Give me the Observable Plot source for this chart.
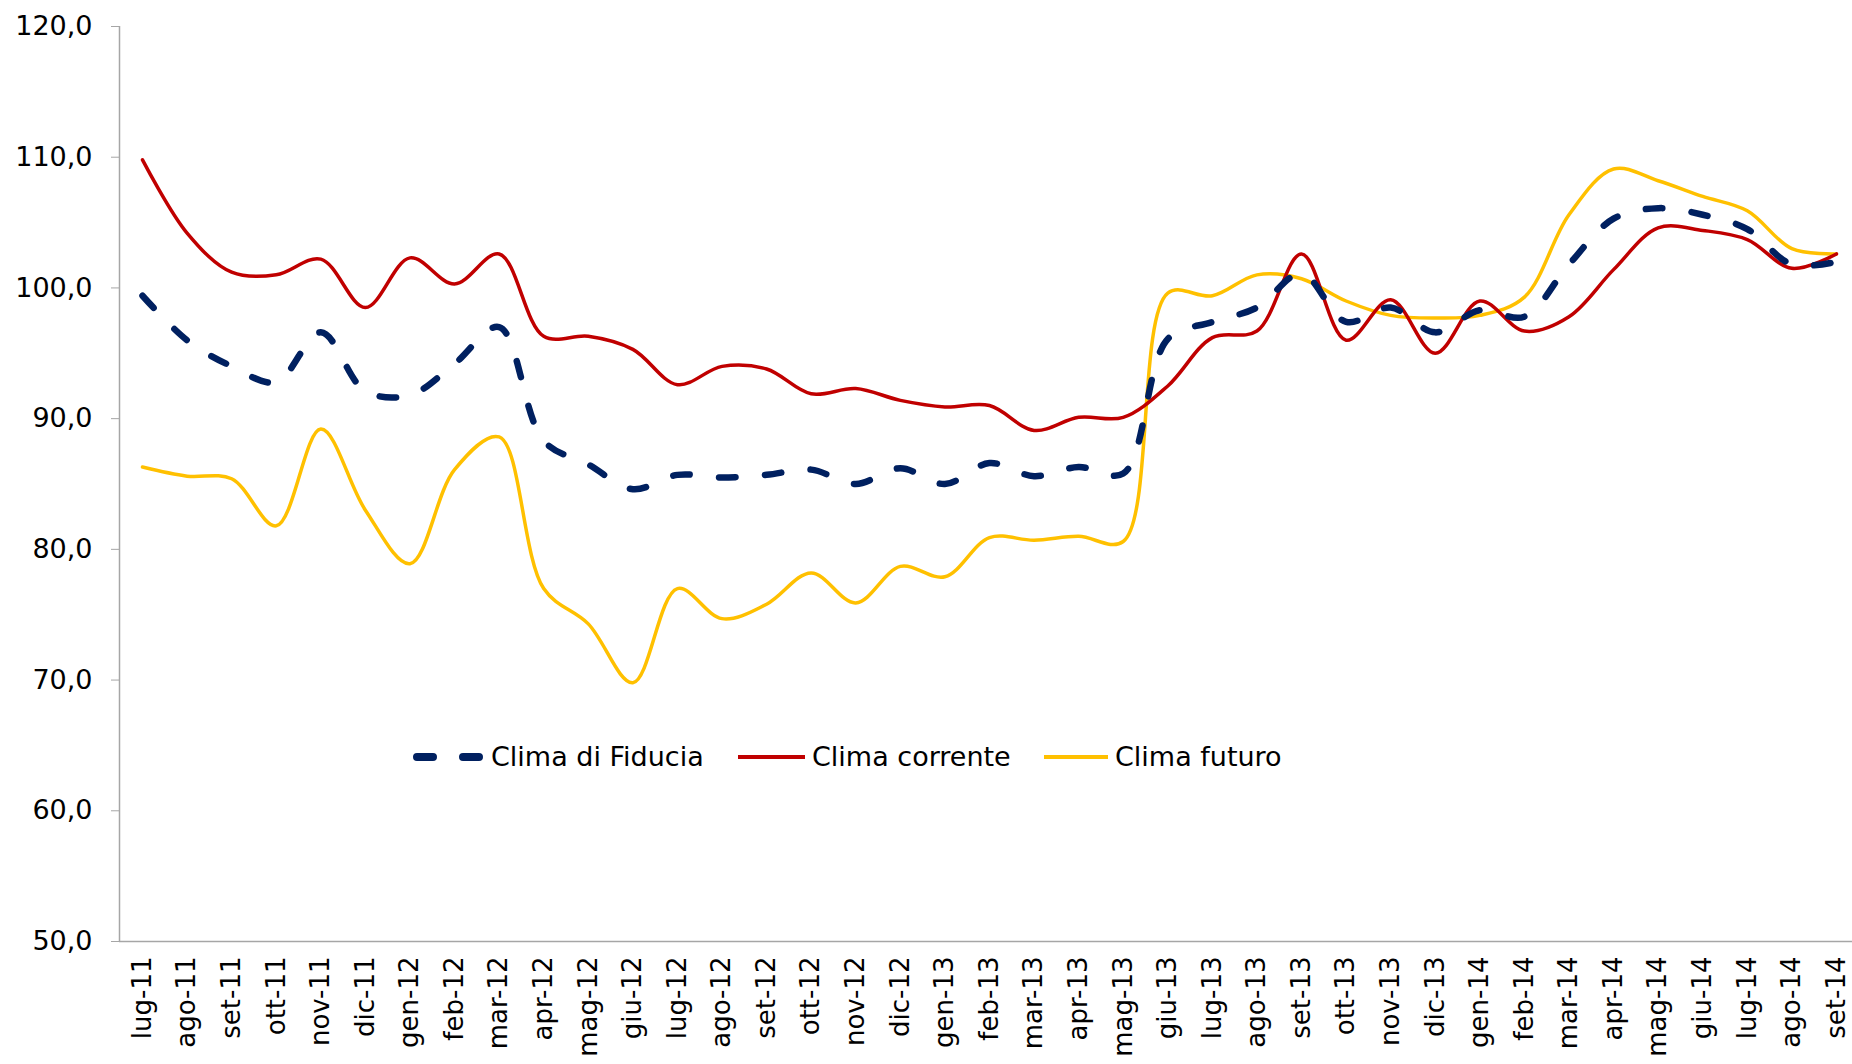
<!DOCTYPE html>
<html><head><meta charset="utf-8">
<script src="https://cdn.jsdelivr.net/npm/d3@7"></script>
<script src="https://cdn.jsdelivr.net/npm/@observablehq/plot@0.6"></script>
<style>
html,body{margin:0;padding:0;background:#fff;}
#wrap{position:relative;width:1852px;height:1064px;overflow:hidden;font-family:"DejaVu Sans",sans-serif;}
.lg{position:absolute;height:32px;line-height:32px;font-size:27px;color:#000;white-space:nowrap;}
.sw{position:absolute;}
</style></head><body><div id="wrap"></div>
<script>
const months = ["lug-11","ago-11","set-11","ott-11","nov-11","dic-11","gen-12","feb-12","mar-12","apr-12","mag-12","giu-12","lug-12","ago-12","set-12","ott-12","nov-12","dic-12","gen-13","feb-13","mar-13","apr-13","mag-13","giu-13","lug-13","ago-13","set-13","ott-13","nov-13","dic-13","gen-14","feb-14","mar-14","apr-14","mag-14","giu-14","lug-14","ago-14","set-14"];
const fiducia = [99.4,96.0,94.0,92.8,96.6,92.1,91.8,94.2,97.0,88.3,86.5,84.6,85.7,85.5,85.7,86.1,85.0,86.2,85.0,86.6,85.6,86.3,85.8,96.1,97.4,98.5,101.1,97.4,98.5,96.6,98.3,97.8,101.8,105.3,106.1,105.6,104.5,101.8,102.0];
const corrente = [109.8,104.2,101.2,101.0,102.2,98.5,102.3,100.3,102.6,96.3,96.3,95.3,92.6,94.0,93.8,91.9,92.3,91.4,90.9,91.0,89.1,90.1,90.1,92.5,96.2,96.7,102.6,96.0,99.1,95.0,99.0,96.7,97.8,101.4,104.6,104.4,103.7,101.5,102.6];
const futuro = [86.3,85.6,85.4,81.8,89.2,83.0,78.9,86.1,88.6,77.0,74.3,69.8,77.0,74.7,75.8,78.2,75.9,78.7,77.9,80.9,80.7,81.0,80.6,99.6,99.4,101.0,100.7,99.0,97.9,97.7,97.9,99.3,105.6,109.1,108.2,107.0,105.9,103.0,102.6];
const yTicks = [50,60,70,80,90,100,110,120];
const seriesNames = ["Clima di Fiducia","Clima corrente","Clima futuro"];
const seriesColors = ["#002060","#c00000","#ffc000"];

const seriesValues = [fiducia, corrente, futuro];
const data = seriesNames.flatMap((name, k) => seriesValues[k].map((v, i) => ({serie: name, i, v})));
const xDomain = [-0.516, 38.36];

const chart = Plot.plot({
  width: 1852, height: 1064,
  marginLeft: 119, marginRight: 0, marginTop: 26, marginBottom: 123,
  style: {fontFamily: "DejaVu Sans, sans-serif", fontSize: "27px", color: "#000", background: "#fff", overflow: "visible"},
  x: {type: "linear", domain: xDomain, label: null},
  y: {domain: [50, 120], label: null},
  marks: [
    Plot.ruleY([50], {stroke: "#a6a6a6", strokeWidth: 1.5}),
    Plot.ruleX([xDomain[0]], {stroke: "#a6a6a6", strokeWidth: 1.5}),
    Plot.axisY({ticks: yTicks, tickSize: 8, tickPadding: 19, stroke: "#a6a6a6", fill: "#000", fontSize: 27,
      tickFormat: d => d.toFixed(1).replace(".", ",")}),
    Plot.axisX({ticks: d3.range(months.length), tickFormat: i => months[i], tickRotate: -90, tickSize: 0, tickPadding: 15, fill: "#000", fontSize: 26}),
    Plot.lineY(data.filter(d => d.serie === seriesNames[2]), {x: "i", y: "v", stroke: seriesColors[2], strokeWidth: 3.5, curve: "catmull-rom"}),
    Plot.lineY(data.filter(d => d.serie === seriesNames[1]), {x: "i", y: "v", stroke: seriesColors[1], strokeWidth: 3.5, curve: "catmull-rom"}),
    Plot.lineY(data.filter(d => d.serie === seriesNames[0]), {x: "i", y: "v", stroke: seriesColors[0], strokeWidth: 6.5, strokeDasharray: "16.5,29.5", strokeLinecap: "round", curve: "catmull-rom"})
  ]
});
const wrap = document.getElementById("wrap");
wrap.appendChild(chart);

// legend (inside plot area, as in the reference)
const legendItems = [
  {name: seriesNames[0], color: seriesColors[0], x1: 417, x2: 480, w: 8, dash: "16 30", tx: 491},
  {name: seriesNames[1], color: seriesColors[1], x1: 738, x2: 805, w: 4, dash: null, tx: 812},
  {name: seriesNames[2], color: seriesColors[2], x1: 1044, x2: 1108, w: 4, dash: null, tx: 1115}
];
const cy = 757;
for (const it of legendItems) {
  const ns = "http://www.w3.org/2000/svg";
  const svg = document.createElementNS(ns, "svg");
  svg.setAttribute("class", "sw");
  svg.setAttribute("width", it.x2 - it.x1 + 12);
  svg.setAttribute("height", 20);
  svg.style.left = (it.x1 - 6) + "px";
  svg.style.top = (cy - 10) + "px";
  const ln = document.createElementNS(ns, "line");
  ln.setAttribute("x1", 6); ln.setAttribute("x2", it.x2 - it.x1 + 6);
  ln.setAttribute("y1", 10); ln.setAttribute("y2", 10);
  ln.setAttribute("stroke", it.color); ln.setAttribute("stroke-width", it.w);
  if (it.dash) { ln.setAttribute("stroke-dasharray", it.dash); ln.setAttribute("stroke-linecap", "round"); }
  svg.appendChild(ln);
  wrap.appendChild(svg);
  const t = document.createElement("div");
  t.className = "lg";
  t.textContent = it.name;
  t.style.left = it.tx + "px";
  t.style.top = (cy - 16) + "px";
  wrap.appendChild(t);
}
</script></body></html>
